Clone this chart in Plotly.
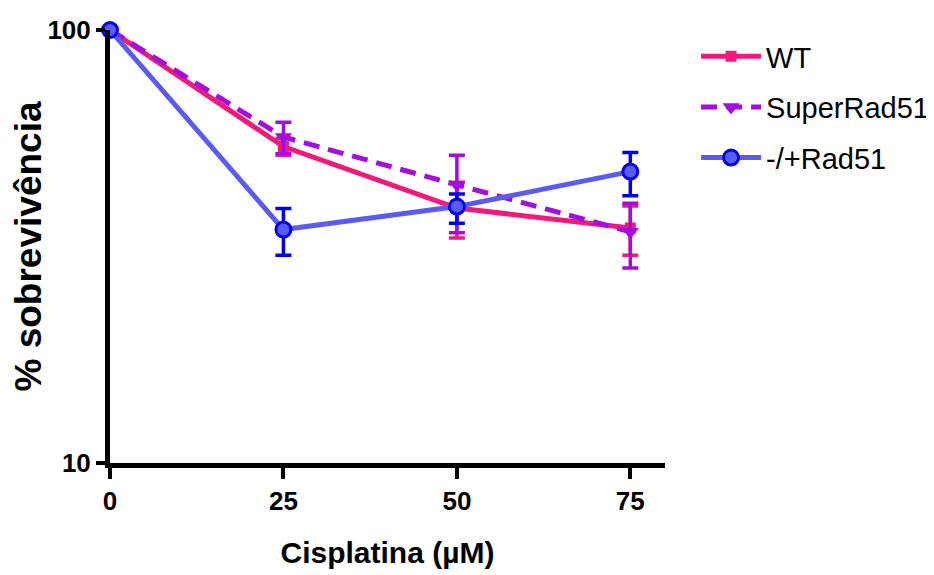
import plotly.graph_objects as go

dose = [0, 25, 50, 75]

wt = [100, 53.8, 38.8, 34.9]
wt_plus = [0, 2.4, 5.7, 4.3]
wt_minus = [0, 2.4, 5.7, 4.7]

sr = [100, 56.6, 43.9, 34.2]
sr_plus = [0, 4.6, 7.5, 5.6]
sr_minus = [0, 4.8, 9.9, 6.0]

rr = [100, 34.6, 39.1, 47.1]
rr_plus = [0, 4.1, 2.7, 5.0]
rr_minus = [0, 4.4, 3.3, 5.7]

names = ["WT", "SuperRad51", "-/+Rad51"]

FONT = "Arial, Liberation Sans, sans-serif"

fig = go.Figure()

fig.add_trace(go.Scatter(
    x=dose, y=wt, name=names[0], legendgroup="a", mode="lines+markers",
    line=dict(color="#F2197C", width=5),
    marker=dict(symbol="square", size=11, color="#F2197C"),
    error_y=dict(type="data", symmetric=False, array=wt_plus, arrayminus=wt_minus,
                 color="#F2197C", thickness=3.5, width=8),
    cliponaxis=False,
))
fig.add_trace(go.Scatter(
    x=dose, y=sr, name=names[1], legendgroup="b", mode="lines+markers",
    line=dict(color="#A50DDE", width=5, dash="16px,9px"),
    marker=dict(symbol="triangle-down", size=15, color="#A50DDE"),
    error_y=dict(type="data", symmetric=False, array=sr_plus, arrayminus=sr_minus,
                 color="#A50DDE", thickness=3.5, width=8),
    cliponaxis=False,
))
fig.add_trace(go.Scatter(
    x=dose, y=rr, name=names[2], legendgroup="c", mode="lines+markers",
    line=dict(color="#5A5AF5", width=5),
    marker=dict(symbol="circle", size=15, color="#5A5AF5",
                line=dict(color="#0000EE", width=3)),
    error_y=dict(type="data", symmetric=False, array=rr_plus, arrayminus=rr_minus,
                 color="#0000EE", thickness=3.5, width=8),
    cliponaxis=False,
))

fig.update_layout(
    width=926, height=567,
    margin=dict(l=102, r=269, t=22, b=112, autoexpand=False),
    plot_bgcolor="white", paper_bgcolor="white",
    font=dict(family=FONT, color="black"),
    showlegend=True,
    legend=dict(x=1.056, y=0.998, xanchor="left", yanchor="top",
                font=dict(family=FONT, size=29, color="black"),
                itemwidth=60, tracegroupgap=10, traceorder="grouped",
                bgcolor="rgba(0,0,0,0)"),
    xaxis=dict(
        range=[0, 80], tickvals=dose, ticktext=[str(d) for d in dose],
        showline=True, linecolor="black", linewidth=5,
        ticks="outside", ticklen=11, tickwidth=4, tickcolor="black",
        showgrid=False, zeroline=False, automargin=False,
        tickfont=dict(family=FONT, size=26, weight="bold"),
        title=dict(text="Cisplatina (µM)", standoff=28,
                   font=dict(family=FONT, size=30, weight="bold")),
    ),
    yaxis=dict(
        type="log", range=[1, 2], tickvals=[10, 100], ticktext=["10", "100"],
        showline=True, linecolor="black", linewidth=5,
        ticks="outside", ticklen=9, tickwidth=4, tickcolor="black",
        showgrid=False, zeroline=False, minor=dict(ticks=""), automargin=False,
        tickfont=dict(family=FONT, size=26, weight="bold"),
        title=dict(text="% sobrevivência", standoff=26,
                   font=dict(family=FONT, size=37, weight="bold")),
    ),
)

fig.write_html("out.html")
